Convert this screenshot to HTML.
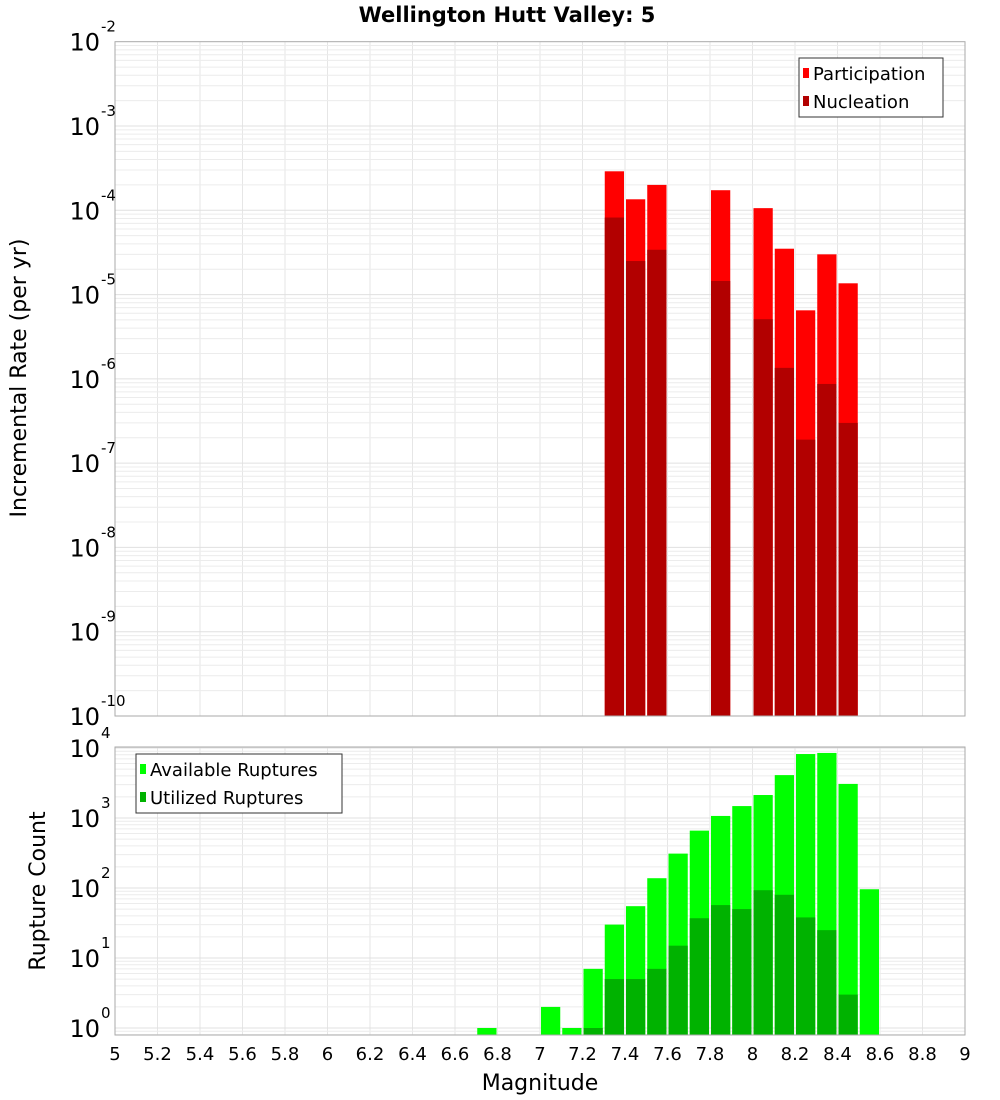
<!DOCTYPE html>
<html><head><meta charset="utf-8"><style>
body{margin:0;background:#fff;}
svg{display:block;font-family:"DejaVu Sans","Liberation Sans",sans-serif;}
</style></head><body>
<svg id="c" width="1000" height="1100" xmlns="http://www.w3.org/2000/svg"></svg>
<script>
const magBins=[7.3,7.4,7.5,7.8,8.0,8.1,8.2,8.3,8.4];
const participation=[2.9e-4,1.35e-4,2.0e-4,1.73e-4,1.06e-4,3.5e-5,6.5e-6,3.0e-5,1.36e-5];
const nucleation=[8.2e-5,2.5e-5,3.4e-5,1.45e-5,5.1e-6,1.35e-6,1.9e-7,8.7e-7,3.0e-7];
const availBins=[6.7,7.0,7.1,7.2,7.3,7.4,7.5,7.6,7.7,7.8,7.9,8.0,8.1,8.2,8.3,8.4,8.5];
const available=[1,2,1,7,30,55,138,310,660,1070,1480,2130,4100,8200,8500,3070,96];
const utilBins=[7.2,7.3,7.4,7.5,7.6,7.7,7.8,7.9,8.0,8.1,8.2,8.3,8.4];
const utilized=[1,5,5,7,15,37,57,50,93,80,38,25,3];
const xTicks=[5,5.2,5.4,5.6,5.8,6,6.2,6.4,6.6,6.8,7,7.2,7.4,7.6,7.8,8,8.2,8.4,8.6,8.8,9];
const xTickLabels=["5","5.2","5.4","5.6","5.8","6","6.2","6.4","6.6","6.8","7","7.2","7.4","7.6","7.8","8","8.2","8.4","8.6","8.8","9"];
const topExp=[-10,-9,-8,-7,-6,-5,-4,-3,-2];
const botExp=[0,1,2,3,4];

const svg=document.getElementById('c');
const NS='http://www.w3.org/2000/svg';
function mk(tag,attrs,parent){const e=document.createElementNS(NS,tag);for(const k in attrs)e.setAttribute(k,attrs[k]);(parent||svg).appendChild(e);return e;}
const X0=115,X1=965;
function x(m){return X0+(m-5)/4*(X1-X0);}
const T0=41.7,T1=716;
function yT(v){return T0+(-2-Math.log10(v))/8*(T1-T0);}
const B0=747,B1=1035;
function yB(v){return 1028-Math.log10(v)*70;}

// title
let t=mk('text',{x:507,y:22,'text-anchor':'middle','font-size':21,'font-weight':'bold'});
t.textContent='Wellington Hutt Valley: 5';



function grid(y0,y1,yfn,emin,emax,name){
  const g=mk('g',{});
  
  
  for(const m of xTicks){mk('line',{x1:x(m),x2:x(m),y1:y0,y2:y1,stroke:'#e6e6e6','stroke-width':1},g);}
  for(let e=emin;e<=emax;e++){for(let k=1;k<10;k++){const v=k*Math.pow(10,e);const yy=yfn(v);if(yy<y0||yy>y1)continue;mk('line',{x1:X0,x2:X1,y1:yy,y2:yy,stroke:k==1?'#e0e0e0':'#ececec','stroke-width':1},g);}}
}
grid(T0,T1,yT,-10,-3,'top-grid');
grid(B0,B1,yB,-1,4,'bottom-grid');

function bars(bins,vals,yfn,base,color,name){
  const g=mk('g',{});
  
  
  bins.forEach((b,i)=>{
    const yy=yfn(vals[i]);
    const r=mk('rect',{x:x(b)+1,y:yy,width:x(b+0.1)-x(b)-2,height:base-yy,fill:color},g);
    
    
  });
}
bars(magBins,participation,yT,T1,'#ff0000','participation');
bars(magBins,nucleation,yT,T1,'#b20000','nucleation');
bars(availBins,available,yB,B1,'#00ff00','available-ruptures');
bars(utilBins,utilized,yB,B1,'#00b200','utilized-ruptures');

mk('rect',{x:X0,y:T0,width:X1-X0,height:T1-T0,fill:'none',stroke:'#aaa'});
mk('rect',{x:X0,y:B0,width:X1-X0,height:B1-B0,fill:'none',stroke:'#aaa'});

function ylabels(exps,yfn,name){
  const g=mk('g',{});
  
  
  exps.forEach(e=>{
    const yy=yfn(Math.pow(10,e));
    const tx=mk('text',{x:100,y:yy+9,'text-anchor':'end','font-size':24},g);
    tx.textContent='10';
    const sp=mk('text',{x:101,y:yy-10,'text-anchor':'start','font-size':15},g);
    sp.textContent=String(e);
  });
}
ylabels(topExp,yT,'top-y-ticks');
ylabels(botExp,yB,'bottom-y-ticks');

const xg=mk('g',{});


xTicks.forEach((m,i)=>{const tx=mk('text',{x:x(m),y:1060,'text-anchor':'middle','font-size':18},xg);tx.textContent=xTickLabels[i];});

t=mk('text',{x:540,y:1090,'text-anchor':'middle','font-size':22});t.textContent='Magnitude';

t=mk('text',{x:0,y:0,'text-anchor':'middle','font-size':22,transform:'translate(26,378) rotate(-90)'});t.textContent='Incremental Rate (per yr)';

t=mk('text',{x:0,y:0,'text-anchor':'middle','font-size':22,transform:'translate(45,891) rotate(-90)'});t.textContent='Rupture Count';


function legend(lx,ly,w,h,items,name){
  const g=mk('g',{});
  
  
  mk('rect',{x:lx,y:ly,width:w,height:h,fill:'#fff',stroke:'#333','stroke-width':1},g);
  items.forEach((it,i)=>{
    const cy=ly+15+i*28;
    mk('rect',{x:lx+4,y:cy-5,width:6,height:10,fill:it[1]},g);
    const tx=mk('text',{x:lx+14,y:cy+7,'font-size':18},g);tx.textContent=it[0];
  });
}
legend(799,58,144,59,[['Participation','#ff0000'],['Nucleation','#b20000']],'top-legend');
legend(136,754,206,59,[['Available Ruptures','#00ff00'],['Utilized Ruptures','#00b200']],'bottom-legend');
</script>
</body></html>
